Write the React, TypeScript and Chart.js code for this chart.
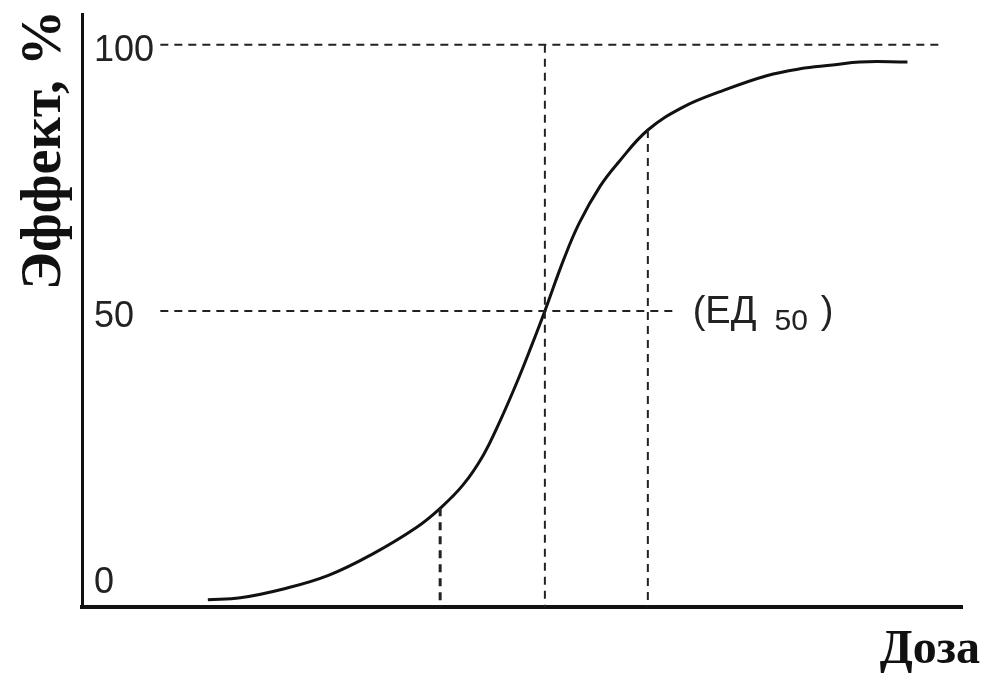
import React, { useEffect, useRef } from "react";
import { Chart, registerables } from "chart.js";

Chart.register(...registerables);

// Dose–effect curve (dose in arbitrary units, effect in %)
const curveDose = [14.3, 18.0, 23.0, 28.0, 33.0, 38.0, 40.7, 43.3, 45.6, 47.5, 49.4, 51.0, 52.6, 54.7, 56.5, 58.9, 61.0, 64.3, 68.3, 72.5, 77.8, 81.6, 85.3, 88.4, 93.8];
const curveEffect = [-4.3, -3.9, -2.2, 0.3, 4.3, 9.3, 12.9, 17.3, 22.9, 29.3, 36.5, 43.1, 50.0, 59.5, 66.5, 73.5, 78.0, 84.0, 88.3, 91.2, 94.2, 95.5, 96.2, 96.8, 96.8];

// Guide lines
const axisMin = -5.64;
const axisMax = 105.8;
const doseMin = 0;
const doseMax = 100;
const line100Dose = [8.9, 97.7];
const line50Dose = [8.9, 67.7];
const lowDose = 40.7;
const lowEffect = 12.9;
const ed50Dose = 52.6;
const highDose = 64.3;
const highEffect = 84.0;

const yTicks = [0, 50, 100];
const yTitle = "Эффект, %";
const xTitle = "Доза";
const ed50Label = "(ЕД";
const ed50Sub = "50";
const ed50Close = ")";
const ed50LabelDose = 69.4;

const DASH_COLOR = "#222";

const textPlugin = {
  id: "textPlugin",
  afterDraw(chart: any) {
    const ctx = chart.ctx;
    const xs = chart.scales.x;
    const ys = chart.scales.y;
    ctx.save();
    ctx.fillStyle = "#111";
    // y title
    ctx.save();
    ctx.translate(60, 150);
    ctx.rotate(-Math.PI / 2);
    ctx.font = "bold 56px 'Liberation Serif', 'Times New Roman', serif";
    ctx.textAlign = "center";
    ctx.textBaseline = "alphabetic";
    ctx.fillText(yTitle, 0, 0);
    ctx.restore();
    // x title
    ctx.font = "bold 48px 'Liberation Serif', 'Times New Roman', serif";
    ctx.textAlign = "right";
    ctx.textBaseline = "alphabetic";
    ctx.fillText(xTitle, 980, 663);
    // ED50 label
    const px = xs.getPixelForValue(ed50LabelDose);
    const py = ys.getPixelForValue(50);
    ctx.fillStyle = "#222";
    ctx.textAlign = "left";
    ctx.font = "38px 'Liberation Sans', Arial, sans-serif";
    ctx.fillText(ed50Label, px, py + 12);
    let cx = px + ctx.measureText(ed50Label).width + 18;
    ctx.font = "30px 'Liberation Sans', Arial, sans-serif";
    ctx.fillText(ed50Sub, cx, py + 19);
    cx += ctx.measureText(ed50Sub).width + 13;
    ctx.font = "38px 'Liberation Sans', Arial, sans-serif";
    ctx.fillText(ed50Close, cx, py + 12);
    ctx.restore();
  },
};

function dashed(points: { x: number; y: number }[], width = 2) {
  return {
    data: points,
    borderColor: DASH_COLOR,
    borderWidth: width,
    borderDash: [8, 6],
    pointRadius: 0,
    fill: false,
    tension: 0,
  };
}

export default function App() {
  const ref = useRef<HTMLCanvasElement | null>(null);
  useEffect(() => {
    if (!ref.current) return;
    const curve = curveDose.map((d, i) => ({ x: d, y: curveEffect[i] }));
    const chart = new Chart(ref.current, {
      type: "line",
      data: {
        datasets: [
          dashed([{ x: line100Dose[0], y: 100 }, { x: line100Dose[1], y: 100 }]),
          dashed([{ x: line50Dose[0], y: 50 }, { x: line50Dose[1], y: 50 }]),
          dashed([{ x: lowDose, y: lowEffect }, { x: lowDose, y: axisMin }], 3),
          dashed([{ x: ed50Dose, y: 100 }, { x: ed50Dose, y: axisMin }]),
          dashed([{ x: highDose, y: highEffect }, { x: highDose, y: axisMin }]),
          {
            data: curve,
            borderColor: "#111",
            borderWidth: 3,
            pointRadius: 0,
            fill: false,
            tension: 0.4,
          },
        ],
      },
      options: {
        responsive: false,
        animation: false,
        events: [],
        layout: { padding: { left: 82, right: 20, top: 14, bottom: 83 } },
        plugins: { legend: { display: false }, tooltip: { enabled: false } },
        scales: {
          x: {
            type: "linear",
            min: doseMin,
            max: doseMax,
            grid: { display: false },
            border: { display: true, color: "#111", width: 4 },
            ticks: { display: false },
            afterFit(scale: any) {
              scale.height = 0;
              scale.paddingLeft = 0;
              scale.paddingRight = 0;
            },
          },
          y: {
            type: "linear",
            min: axisMin,
            max: axisMax,
            grid: { display: false },
            border: { display: true, color: "#111", width: 3 },
            ticks: {
              mirror: true,
              padding: 12,
              labelOffset: 6,
              color: "#222",
              font: { family: "'Liberation Sans', Arial, sans-serif", size: 36 },
            },
            afterBuildTicks(scale: any) {
              scale.ticks = yTicks.map((v) => ({ value: v }));
            },
            afterFit(scale: any) {
              scale.width = 0;
              scale.paddingTop = 0;
              scale.paddingBottom = 0;
            },
          },
        },
      },
      plugins: [textPlugin],
    } as any);
    return () => chart.destroy();
  }, []);
  return (
    <div style={{ position: "fixed", left: 0, top: 0, width: 982, height: 690, background: "#fff" }}>
      <canvas ref={ref} width={982} height={690} />
    </div>
  );
}
